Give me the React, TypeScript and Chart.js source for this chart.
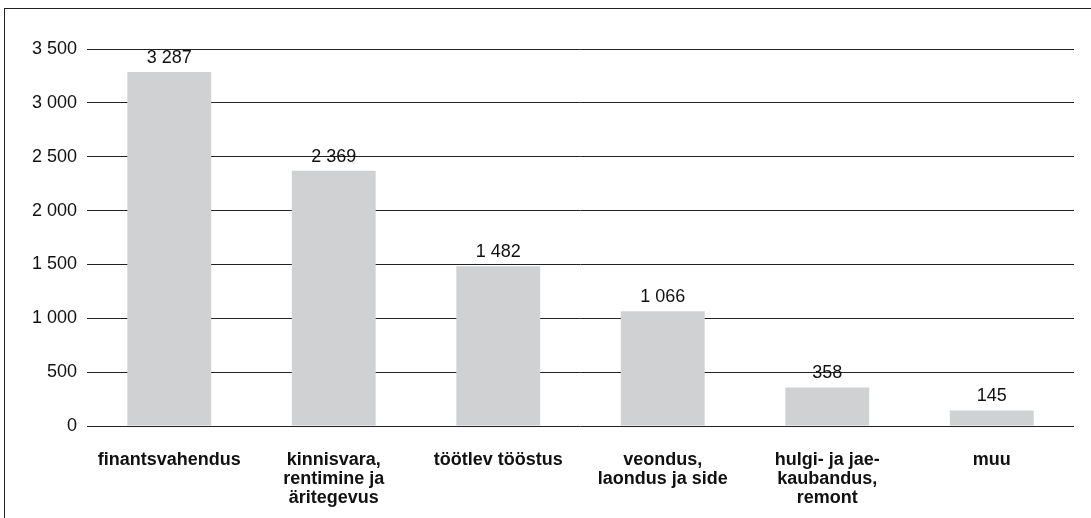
import React, { useEffect, useRef } from "react";
import { Chart, registerables } from "chart.js";

Chart.register(...registerables);

const categories: string[][] = [
  ["finantsvahendus"],
  ["kinnisvara,", "rentimine ja", "äritegevus"],
  ["töötlev tööstus"],
  ["veondus,", "laondus ja side"],
  ["hulgi- ja jae-", "kaubandus,", "remont"],
  ["muu"],
];
const values: number[] = [3287, 2369, 1482, 1066, 358, 145];
const yMin = 0;
const yMax = 3500;
const yStep = 500;

const fmt = (v: number) => String(Math.round(v)).replace(/\B(?=(\d{3})+(?!\d))/g, " ");

const FONT = "'Liberation Sans', Arial, Helvetica, sans-serif";

const valueLabels = {
  id: "valueLabels",
  afterDatasetsDraw(chart: any) {
    const ctx = chart.ctx;
    const meta = chart.getDatasetMeta(0);
    ctx.save();
    ctx.font = `18px ${FONT}`;
    ctx.fillStyle = "#111";
    ctx.textAlign = "center";
    ctx.textBaseline = "alphabetic";
    meta.data.forEach((el: any, i: number) => {
      ctx.fillText(fmt(values[i]), el.x, el.y - 9);
    });
    ctx.restore();
  },
};

export default function App() {
  const ref = useRef<HTMLCanvasElement | null>(null);
  useEffect(() => {
    if (!ref.current) return;
    const chart = new Chart(ref.current, {
      type: "bar",
      data: {
        labels: categories,
        datasets: [
          {
            data: values,
            backgroundColor: "#d0d1d3",
            borderWidth: 0,
            categoryPercentage: 1,
            barPercentage: 0.51,
          },
        ],
      },
      options: {
        animation: false,
        responsive: false,
        maintainAspectRatio: false,
        layout: { padding: { left: 0, right: 17, top: 49, bottom: 0 } },
        plugins: { legend: { display: false }, tooltip: { enabled: false } },
        scales: {
          x: {
            grid: { display: false, drawTicks: false },
            border: { display: false },
            ticks: {
              color: "#111",
              font: { family: FONT, size: 18, weight: "bold", lineHeight: 1.07 },
              padding: 24,
              maxRotation: 0,
              autoSkip: false,
            },
            afterFit(scale: any) {
              scale.height = 92;
            },
          },
          y: {
            min: yMin,
            max: yMax,
            grid: { color: "#222", lineWidth: 1, drawTicks: false },
            border: { display: false },
            ticks: {
              stepSize: yStep,
              color: "#111",
              padding: 10,
              font: { family: FONT, size: 18 },
              callback: (v: any) => fmt(Number(v)),
            },
            afterFit(scale: any) {
              scale.width = 87;
            },
          },
        },
      },
      plugins: [valueLabels],
    });
    return () => chart.destroy();
  }, []);
  return (
    <div style={{ position: "absolute", left: 0, top: 0, width: 1091, height: 518, overflow: "hidden", background: "#fff" }}>
      <div
        style={{
          position: "absolute",
          left: 4,
          top: 8,
          width: 1200,
          height: 700,
          border: "1.5px solid #222",
          boxSizing: "border-box",
        }}
      />
      <canvas ref={ref} width={1091} height={518} style={{ position: "absolute", left: 0, top: 0 }} />
    </div>
  );
}
